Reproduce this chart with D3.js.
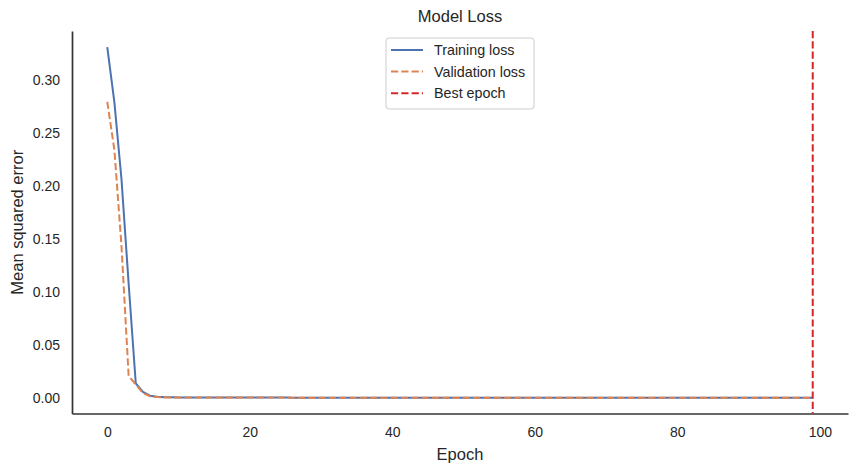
<!DOCTYPE html>
<html>
<head>
<meta charset="utf-8">
<script src="https://cdn.jsdelivr.net/npm/d3@7"></script>
<style>
  html, body { margin: 0; padding: 0; background: #fff; }
  svg { display: block; font-family: Arial, 'Liberation Sans', sans-serif; }
</style>
</head>
<body>
<div id="chart"></div>
<script>
// values
const epochs = d3.range(100)
const trainLoss = [
  0.331, 0.279, 0.206, 0.108, 0.014, 0.006, 0.0025, 0.0015, 0.0011, 0.0009,
  0.0008, 0.0008, 0.0008, 0.0007, 0.0007, 0.0007, 0.0007, 0.0007, 0.0007, 0.0007,
  0.0007, 0.0007, 0.0007, 0.0007, 0.0007, 0.0007, 0.0006, 0.0006, 0.0006, 0.0006,
  0.0006, 0.0006, 0.0006, 0.0006, 0.0006, 0.0006, 0.0006, 0.0006, 0.0006, 0.0006,
  0.0006, 0.0006, 0.0006, 0.0006, 0.0006, 0.0006, 0.0006, 0.0006, 0.0006, 0.0006,
  0.0006, 0.0006, 0.0006, 0.0006, 0.0006, 0.0006, 0.0006, 0.0006, 0.0006, 0.0006,
  0.0006, 0.0006, 0.0006, 0.0006, 0.0006, 0.0006, 0.0006, 0.0006, 0.0006, 0.0006,
  0.0006, 0.0006, 0.0006, 0.0006, 0.0006, 0.0006, 0.0006, 0.0006, 0.0006, 0.0006,
  0.0006, 0.0006, 0.0006, 0.0006, 0.0006, 0.0006, 0.0006, 0.0006, 0.0006, 0.0006,
  0.0006, 0.0006, 0.0006, 0.0006, 0.0006, 0.0006, 0.0006, 0.0006, 0.0006, 0.0006
]
const valLoss = [
  0.2795, 0.234, 0.143, 0.021, 0.013, 0.005, 0.002, 0.0012, 0.0009, 0.0008,
  0.0008, 0.0007, 0.0007, 0.0007, 0.0007, 0.0007, 0.0007, 0.0007, 0.0007, 0.0007,
  0.0007, 0.0007, 0.0007, 0.0007, 0.0007, 0.0007, 0.0006, 0.0006, 0.0006, 0.0006,
  0.0006, 0.0006, 0.0006, 0.0006, 0.0006, 0.0006, 0.0006, 0.0006, 0.0006, 0.0006,
  0.0006, 0.0006, 0.0006, 0.0006, 0.0006, 0.0006, 0.0006, 0.0006, 0.0006, 0.0006,
  0.0006, 0.0006, 0.0006, 0.0006, 0.0006, 0.0006, 0.0006, 0.0006, 0.0006, 0.0006,
  0.0006, 0.0006, 0.0006, 0.0006, 0.0006, 0.0006, 0.0006, 0.0006, 0.0006, 0.0006,
  0.0006, 0.0006, 0.0006, 0.0006, 0.0006, 0.0006, 0.0006, 0.0006, 0.0006, 0.0006,
  0.0006, 0.0006, 0.0006, 0.0006, 0.0006, 0.0006, 0.0006, 0.0006, 0.0006, 0.0006,
  0.0006, 0.0006, 0.0006, 0.0006, 0.0006, 0.0006, 0.0006, 0.0006, 0.0006, 0.0006
]
const bestEpoch = 99
const xTicks = [0, 20, 40, 60, 80, 100]
const yTicks = [0, 0.05, 0.10, 0.15, 0.20, 0.25, 0.30]
const legendLabels = ['Training loss', 'Validation loss', 'Best epoch']

const width = 857
const height = 474
const margin = { top: 31, right: 9, bottom: 60.5, left: 72 }
const textColor = '#262626'
const blue = '#4c72b0'
const orange = '#dd8452'
const red = '#d62728'

const svg = d3.select('#chart').append('svg')
  .attr('width', width)
  .attr('height', height)

const x = d3.scaleLinear()
  .domain([-4.95, 103.95])
  .range([margin.left, width - margin.right])
const y = d3.scaleLinear()
  .domain([-0.0143, 0.3462])
  .range([height - margin.bottom, margin.top])

// axes (no tick marks, seaborn "white" look)
const xAxis = svg.append('g')
  .attr('transform', `translate(0,${height - margin.bottom})`)
  .call(d3.axisBottom(x).tickValues(xTicks).tickSize(0).tickPadding(16).tickFormat(d3.format('d')))
const yAxis = svg.append('g')
  .attr('transform', `translate(${margin.left},0)`)
  .call(d3.axisLeft(y).tickValues(yTicks).tickSize(0).tickPadding(12).tickFormat(d3.format('.2f')))

for (const ax of [xAxis, yAxis]) {
  ax.select('.domain').attr('stroke', '#333').attr('stroke-width', 1.7)
  ax.selectAll('text').attr('fill', textColor).style('font-size', '14px')
    .style('font-family', "Arial, 'Liberation Sans', sans-serif")
}
xAxis.selectAll('text').attr('dy', '0.5em')

const line = d3.line()
  .x((d, i) => x(epochs[i]))
  .y(d => y(d))

svg.append('path')
  .datum(trainLoss)
  .attr('fill', 'none')
  .attr('stroke', blue)
  .attr('stroke-width', 2)
  .attr('d', line)

svg.append('path')
  .datum(valLoss)
  .attr('fill', 'none')
  .attr('stroke', orange)
  .attr('stroke-width', 2)
  .attr('stroke-dasharray', '7.2,3.1')
  .attr('d', line)

svg.append('line')
  .attr('x1', x(bestEpoch))
  .attr('x2', x(bestEpoch))
  .attr('y1', margin.top)
  .attr('y2', height - margin.bottom)
  .attr('stroke', red)
  .attr('stroke-width', 2)
  .attr('stroke-dasharray', '7.2,3.1')

// title and labels
svg.append('text')
  .attr('x', (margin.left + width - margin.right) / 2)
  .attr('y', 22)
  .attr('text-anchor', 'middle')
  .attr('fill', textColor)
  .style('font-size', '16.5px')
  .text('Model Loss')

svg.append('text')
  .attr('x', (margin.left + width - margin.right) / 2)
  .attr('y', 460)
  .attr('text-anchor', 'middle')
  .attr('fill', textColor)
  .style('font-size', '16.5px')
  .text('Epoch')

svg.append('text')
  .attr('transform', `translate(23,${(margin.top + height - margin.bottom) / 2}) rotate(-90)`)
  .attr('text-anchor', 'middle')
  .attr('fill', textColor)
  .style('font-size', '16.5px')
  .text('Mean squared error')

// legend, upper center
const legW = 148
const legH = 71
const legX = (margin.left + width - margin.right) / 2 - legW / 2
const legY = margin.top + 7
const legend = svg.append('g').attr('transform', `translate(${legX},${legY})`)
legend.append('rect')
  .attr('width', legW)
  .attr('height', legH)
  .attr('rx', 3)
  .attr('fill', '#fff')
  .attr('fill-opacity', 0.8)
  .attr('stroke', '#cccccc')

const legendStyles = [
  { color: blue, dash: null },
  { color: orange, dash: '7.2,3.1' },
  { color: red, dash: '7.2,3.1' }
]
const entry = legend.selectAll('g.entry')
  .data(legendLabels)
  .join('g')
  .attr('class', 'entry')
  .attr('transform', (d, i) => `translate(0,${12 + i * 21.6})`)
entry.append('line')
  .attr('x1', 5)
  .attr('x2', 37)
  .attr('stroke', (d, i) => legendStyles[i].color)
  .attr('stroke-width', 2)
  .attr('stroke-dasharray', (d, i) => legendStyles[i].dash)
entry.append('text')
  .attr('x', 48)
  .attr('dy', '0.35em')
  .attr('fill', textColor)
  .style('font-size', '14.3px')
  .text(d => d)
</script>
</body>
</html>
